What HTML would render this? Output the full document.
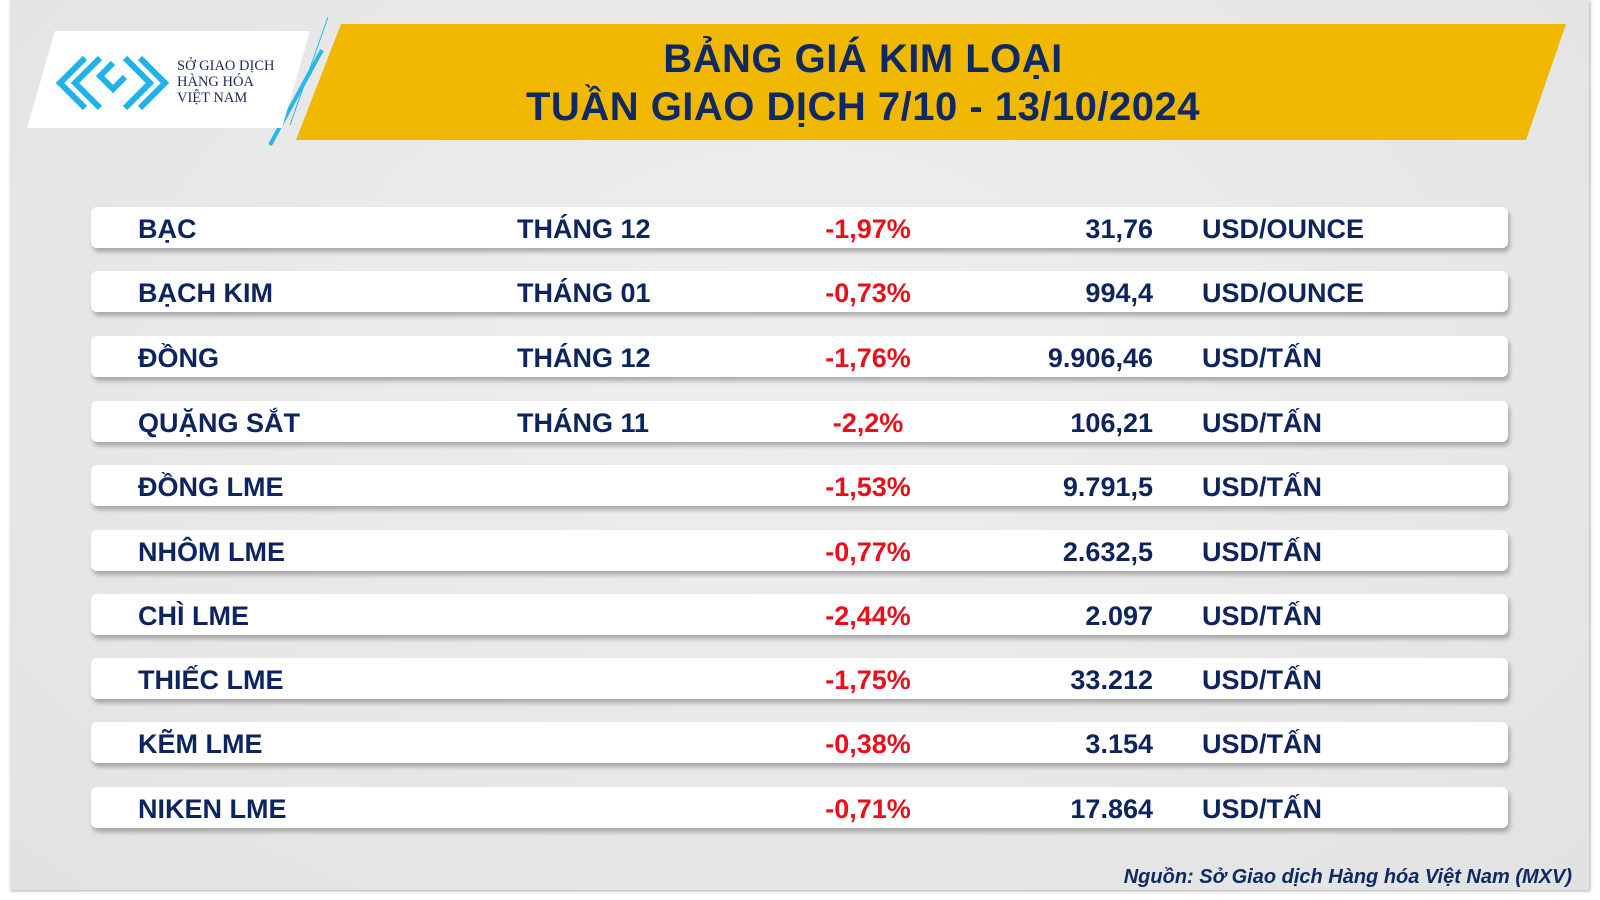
<!DOCTYPE html>
<html><head><meta charset="utf-8"><style>
body{margin:0;width:1600px;height:900px;background:#fff;position:relative;overflow:hidden;font-family:"Liberation Sans",sans-serif}
#bg{position:absolute;left:10px;top:0;width:1579px;height:890px;background:radial-gradient(ellipse at 50% 40%,#efefef,#e2e2e2);box-shadow:1px 1px 3px #aaa}
#ban{position:absolute;left:296px;top:24px;width:1270px;height:116px;background:#f0b800;clip-path:polygon(45px 0,100% 0,1230px 100%,0 100%)}
.t{position:absolute;left:278px;width:1170px;text-align:center;color:#0f2a63;font-weight:bold;font-size:40px;letter-spacing:0.5px}
#logo{position:absolute;left:27px;top:31px;width:283px;height:97px;background:#fff;clip-path:polygon(28px 0,100% 0,255px 100%,0 100%);box-shadow:0 4px 6px #888}
.row{position:absolute;left:91px;width:1417px;height:41px;background:#fff;border-radius:6px;box-shadow:2px 4px 5px rgba(0,0,0,0.28);color:#0d245e;font-weight:bold;font-size:27px}
.row span{position:absolute;top:7px;white-space:nowrap}
.n{left:47px}.m{left:426px}.p{left:727px;width:100px;text-align:center;color:#e8101a}.v{right:355px}.u{left:1111px}
#src{position:absolute;right:28px;top:866px;font-style:italic;font-weight:bold;font-size:20px;color:#0f2a63}
</style></head><body>
<div id="bg"></div>
<div id="ban"></div>
<svg style="position:absolute;left:260px;top:15px" width="70" height="135"><line x1="68" y1="2" x2="30" y2="110" stroke="#29b6e8" stroke-width="1"/><line x1="62" y1="35" x2="10" y2="130" stroke="#29b6e8" stroke-width="4"/></svg>
<div id="logo"></div>
<svg style="position:absolute;left:55px;top:55px" width="115" height="55" viewBox="0 0 115 55">
<g fill="none" stroke="#1fb3ea" stroke-width="6">
<path d="M30 3 L5 28 L30 53"/><path d="M45 3 L20 28 L45 53"/><path d="M58 8 L45 21 L58 34 L70 22"/><path d="M70 3 L95 28 L70 53"/><path d="M85 3 L110 28 L85 53"/></g></svg>
<div style="position:absolute;left:177px;top:58px;color:#1e2a55;font-size:14.5px;line-height:16px;font-family:'Liberation Serif',serif">SỞ GIAO DỊCH<br>HÀNG HÓA<br>VIỆT NAM</div>
<div class="t" style="top:37px">BẢNG GIÁ KIM LOẠI</div>
<div class="t" style="top:85px">TUẦN GIAO DỊCH 7/10 - 13/10/2024</div>

<div class="row" style="top:207px"><span class="n">BẠC</span><span class="m">THÁNG 12</span><span class="p">-1,97%</span><span class="v">31,76</span><span class="u">USD/OUNCE</span></div>
<div class="row" style="top:271px"><span class="n">BẠCH KIM</span><span class="m">THÁNG 01</span><span class="p">-0,73%</span><span class="v">994,4</span><span class="u">USD/OUNCE</span></div>
<div class="row" style="top:336px"><span class="n">ĐỒNG</span><span class="m">THÁNG 12</span><span class="p">-1,76%</span><span class="v">9.906,46</span><span class="u">USD/TẤN</span></div>
<div class="row" style="top:401px"><span class="n">QUẶNG SẮT</span><span class="m">THÁNG 11</span><span class="p">-2,2%</span><span class="v">106,21</span><span class="u">USD/TẤN</span></div>
<div class="row" style="top:465px"><span class="n">ĐỒNG LME</span><span class="p">-1,53%</span><span class="v">9.791,5</span><span class="u">USD/TẤN</span></div>
<div class="row" style="top:530px"><span class="n">NHÔM LME</span><span class="p">-0,77%</span><span class="v">2.632,5</span><span class="u">USD/TẤN</span></div>
<div class="row" style="top:594px"><span class="n">CHÌ LME</span><span class="p">-2,44%</span><span class="v">2.097</span><span class="u">USD/TẤN</span></div>
<div class="row" style="top:658px"><span class="n">THIẾC LME</span><span class="p">-1,75%</span><span class="v">33.212</span><span class="u">USD/TẤN</span></div>
<div class="row" style="top:722px"><span class="n">KẼM LME</span><span class="p">-0,38%</span><span class="v">3.154</span><span class="u">USD/TẤN</span></div>
<div class="row" style="top:787px"><span class="n">NIKEN LME</span><span class="p">-0,71%</span><span class="v">17.864</span><span class="u">USD/TẤN</span></div>
<div id="src">Nguồn: Sở Giao dịch Hàng hóa Việt Nam (MXV)</div>
</body></html>
